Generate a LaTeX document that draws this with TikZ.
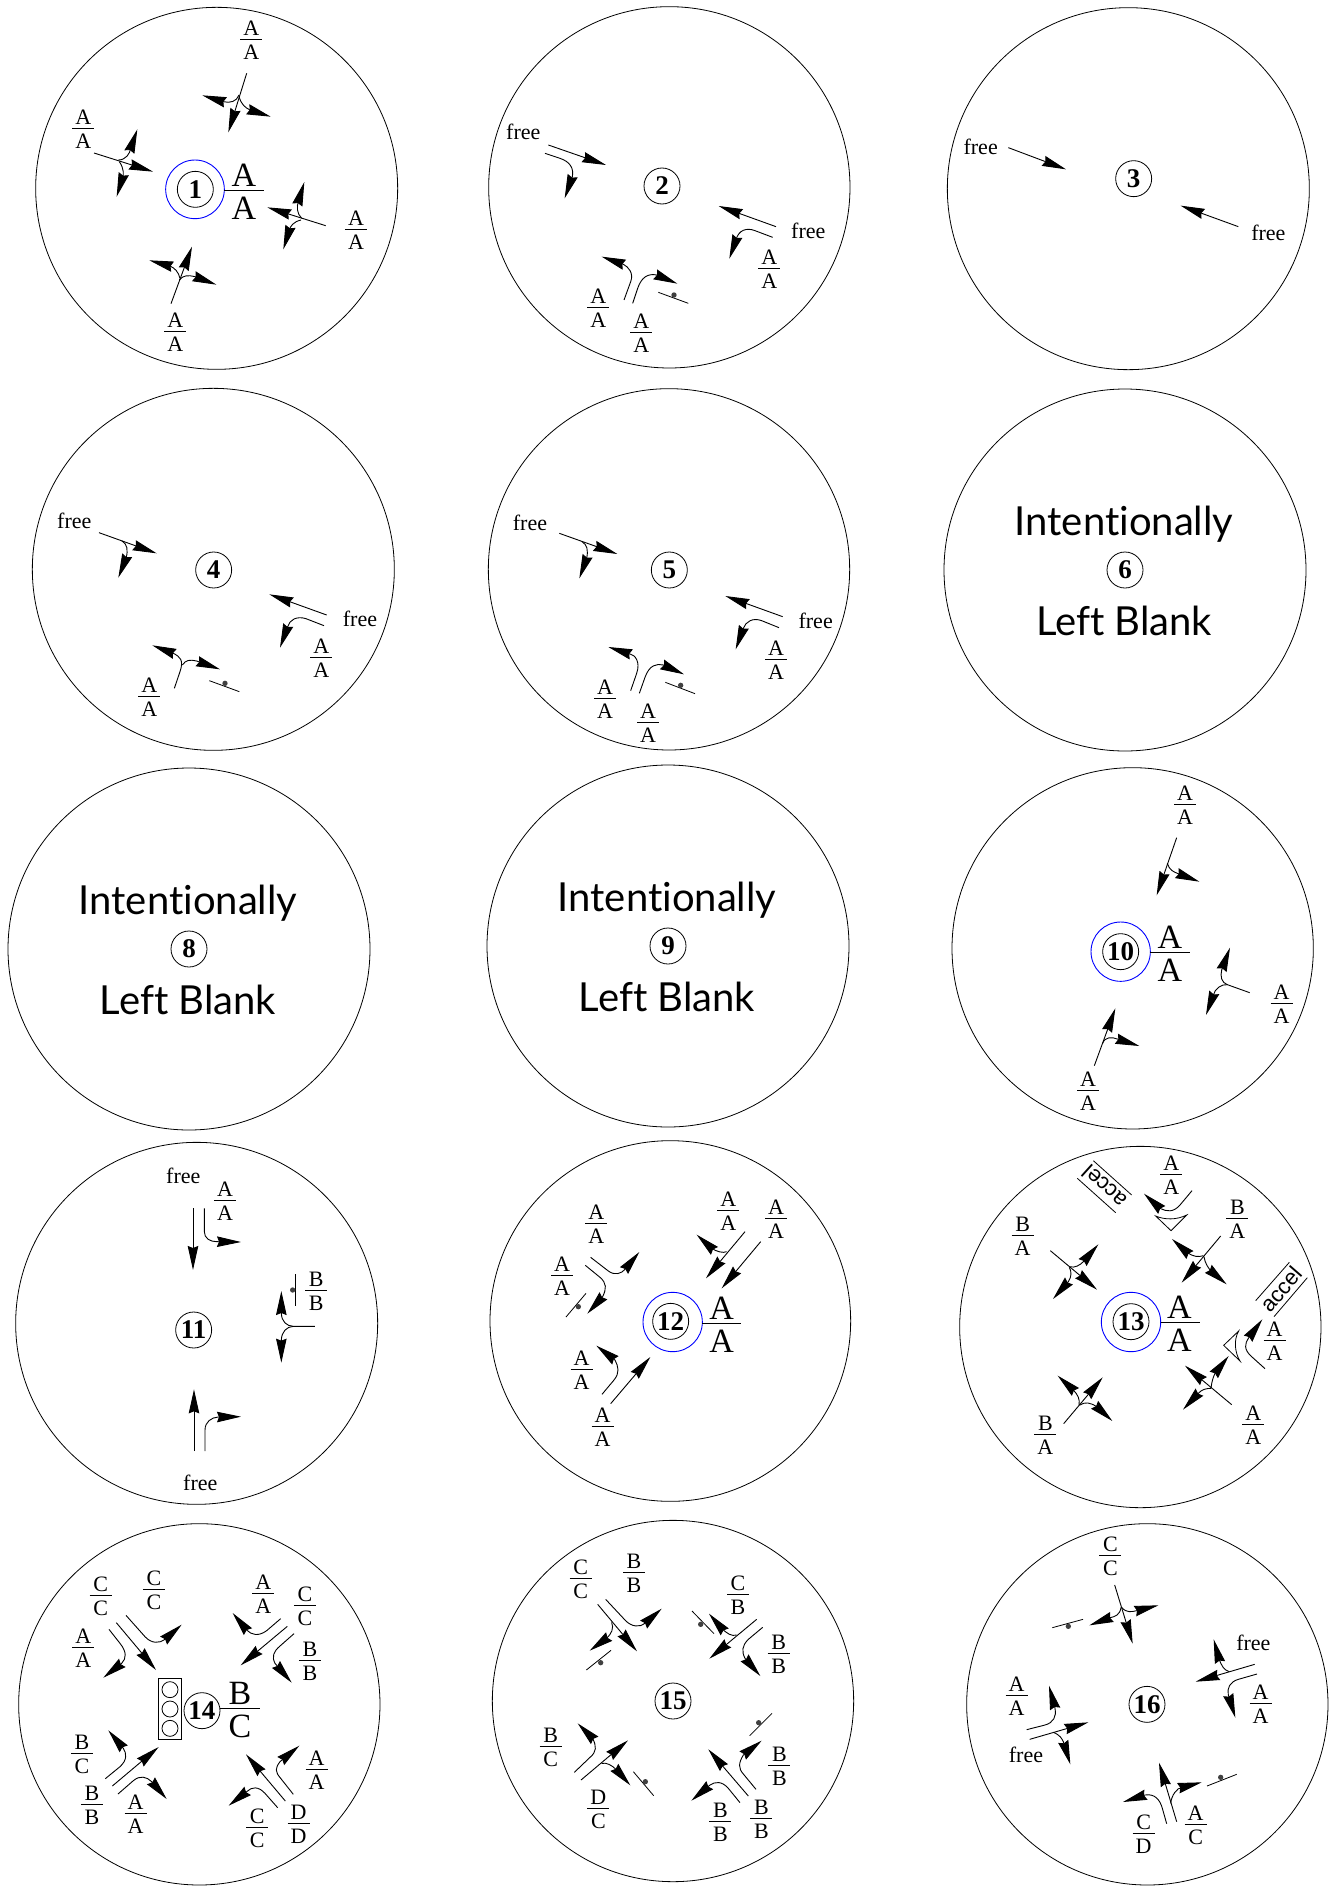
\documentclass[tikz,border=0pt]{standalone}
\usepackage{fontspec}
\setmainfont{Liberation Serif}
\newfontfamily\latof[Ligatures=NoCommon]{Lato}
\newfontfamily\helf{Liberation Sans}
\usetikzlibrary{arrows.meta}
\newcount\nc
\def\nx{\global\advance\nc by 1\relax}
\tikzset{
  zm/.style={x=0.33333pt,y=-0.33333pt},
  ln/.style={line width=0.8pt,black},
  road/.style={line width=0.9pt,black,-{Stealth[length=24pt,width=10.5pt,inset=2pt]}},
  txt/.style={anchor=base,inner sep=0pt,font=\fontsize{22}{24}\selectfont},
  bigtxt/.style={anchor=base,inner sep=0pt,font=\fontsize{34}{36}\selectfont},
  numc/.style={draw,circle,line width=0.8pt,inner sep=0pt,minimum size=36pt,font=\bfseries\fontsize{27}{29}\selectfont},
  ringc/.style={line width=0.9pt,blue},
  blanktxt/.style={anchor=base,inner sep=0pt,font=\latof\fontsize{40}{44}\selectfont}
}
\newcommand\fr[4]{%
  \nx\node[txt,yshift=4pt] (n\the\nc) at (#1,#2) {#3};
  \draw[ln] ([xshift=-11pt]#1,#2) -- ([xshift=11pt]#1,#2);
  \nx\node[txt,yshift=-20pt] (n\the\nc) at (#1,#2) {#4};}
\newcommand\FR[6]{% x1,y,x2,textx,top,bottom
  \draw[ln] (#1,#2) -- (#3,#2);
  \nx\node[bigtxt,yshift=4pt] (n\the\nc) at (#4,#2) {#5};
  \nx\node[bigtxt,yshift=-29pt] (n\the\nc) at (#4,#2) {#6};}
\newcommand\fre[2]{\nx\node[txt] (n\the\nc) at (#1,#2) {free};}
\newcommand\num[3]{\nx\node[numc] (n\the\nc) at (#1,#2) {#3};}
\newcommand\stopbar[6]{%
  \draw[ln] (#1,#2) -- (#3,#4);
  \fill[black!75] (#5,#6) circle[radius=8];}
\newcommand\blankc[3]{%
  \draw[ln] (#1,#2) circle[radius=181];
  \nx\node[blanktxt,xshift=-1pt,yshift=35pt] (n\the\nc) at (#1,#2) {Intentionally};
  \num{#1}{#2}{#3}
  \nx\node[blanktxt,xshift=-1pt,yshift=-65pt] (n\the\nc) at (#1,#2) {Left Blank};}
\begin{document}
\begin{tikzpicture}[x=1pt,y=-1pt]
\path[use as bounding box,fill=white] (0,0) rectangle (1330,1890);
% 1
\begin{scope}[shift={(20,0)},zm]
\draw[ln] (590,565) circle[radius=543];
\fr{694}{118}{A}{A}\fr{190}{385}{A}{A}\fr{1008}{689}{A}{A}\fr{466}{995}{A}{A}
\num{526}{568}{1}
\draw[ringc] (525,568) circle[radius=88];
\FR{613}{570}{732}{672}{A}{A}
\draw[road] (680,220) -- (625,397);
\draw[road] (657,285) .. controls (650,305) and (630,310) .. (610,305) -- (547,286);
\draw[road] (657,290) .. controls (665,315) and (675,322) .. (690,330) -- (752,350);
\draw[road] (222,459) -- (399,515);
\draw[road] (295,480) .. controls (318,480) and (330,460) .. (332,445) -- (352,388);
\draw[road] (298,485) .. controls (312,505) and (312,525) .. (307,535) -- (290,590);
\draw[road] (917,677) -- (742,622);
\draw[road] (845,655) .. controls (830,640) and (830,620) .. (835,605) -- (853,546);
\draw[road] (843,660) .. controls (820,665) and (810,680) .. (808,690) -- (790,748);
\draw[road] (453,911) -- (516,740);
\draw[road] (480,835) .. controls (475,815) and (465,805) .. (450,798) -- (388,781);
\draw[road] (478,840) .. controls (490,825) and (505,825) .. (525,830) -- (589,854);
\end{scope}
% 2
\begin{scope}[shift={(480,0)},zm]
\draw[ln] (568,562) circle[radius=542];
\fre{130}{418}\fre{985}{715}
\fr{355}{922}{A}{A}\fr{484}{997}{A}{A}\fr{868}{805}{A}{A}
\num{546}{558}{2}
\draw[road] (205,435) -- (378,495);
\draw[road] (195,460) -- (240,475) .. controls (270,485) and (282,505) .. (277,530) -- (254,595);
\draw[road] (888,680) -- (716,618);
\draw[road] (878,712) -- (825,692) .. controls (800,682) and (775,690) .. (768,720) -- (748,776);
\draw[road] (432,900) -- (452,845) .. controls (462,820) and (445,800) .. (430,793) -- (365,770);
\draw[road] (458,910) -- (473,865) .. controls (485,830) and (505,820) .. (530,825) -- (592,851);
\stopbar{535}{877}{625}{910}{582}{885}
\end{scope}
% 3
\begin{scope}[shift={(940,0)},zm]
\draw[ln] (565,566) circle[radius=543];
\fre{122}{462}\fre{985}{720}
\num{581}{536}{3}
\draw[road] (205,443) -- (378,508);
\draw[road] (895,680) -- (722,617);
\end{scope}
% 4
\begin{scope}[shift={(20,380)},zm]
\draw[ln] (580,568) circle[radius=543];
\fre{163}{445}\fre{1020}{740}
\fr{904}{831}{A}{A}\fr{388}{948}{A}{A}
\num{581}{570}{4}
\draw[road] (237,458) -- (410,520);
\draw[road] (305,482) .. controls (322,492) and (325,510) .. (318,535) -- (295,593);
\draw[road] (920,705) -- (748,643);
\draw[road] (912,737) -- (858,716) .. controls (830,707) and (808,720) .. (803,740) -- (780,803);
\draw[road] (463,925) -- (480,875) .. controls (492,840) and (480,830) .. (460,820) -- (397,796);
\draw[road] (487,855) .. controls (497,840) and (510,838) .. (530,843) -- (600,868);
\stopbar{568}{902}{658}{935}{615}{910}
\end{scope}
% 5
\begin{scope}[shift={(480,380)},zm]
\draw[ln] (567,568) circle[radius=542];
\fre{150}{450}\fre{1007}{745}
\fr{375}{954}{A}{A}\fr{504}{1028}{A}{A}\fr{888}{838}{A}{A}
\num{568}{570}{5}
\draw[road] (238,460) -- (412,522);
\draw[road] (305,484) .. controls (322,495) and (325,510) .. (320,535) -- (298,595);
\draw[road] (908,710) -- (736,648);
\draw[road] (897,743) -- (845,722) .. controls (818,712) and (797,725) .. (790,745) -- (767,808);
\draw[road] (452,932) -- (470,880) .. controls (482,845) and (465,825) .. (450,822) -- (385,801);
\draw[road] (478,940) -- (495,892) .. controls (508,855) and (530,850) .. (550,855) -- (612,883);
\stopbar{556}{907}{645}{941}{602}{916}
\end{scope}
% 6 8 9
\blankc{1125}{570}{6}
\blankc{189}{949}{8}
\blankc{668}{946}{9}
% 10
\begin{scope}[shift={(940,760)},zm]
\draw[ln] (578,565) circle[radius=542];
\fr{735}{132}{A}{A}\fr{1025}{730}{A}{A}\fr{444}{992}{A}{A}
\num{542}{575}{10}
\draw[ringc] (542,575) circle[radius=89];
\FR{630}{577}{749}{690}{A}{A}
\draw[road] (710,233) -- (650,406);
\draw[road] (682,310) .. controls (688,330) and (700,335) .. (712,340) -- (778,365);
\draw[road] (929,698) -- (862,674) .. controls (845,668) and (840,650) .. (845,630) -- (870,563);
\draw[road] (862,674) .. controls (845,672) and (825,685) .. (820,705) -- (798,765);
\draw[road] (463,917) -- (526,745);
\draw[road] (488,850) .. controls (495,830) and (515,830) .. (535,838) -- (598,858);
\end{scope}
% 11
\begin{scope}[shift={(10,1140)},zm]
\draw[ln] (560,550) circle[radius=543];
\fre{520}{130}\fre{571}{1050}
\fr{645}{181}{A}{A}\fr{919}{450}{B}{B}
\num{551}{570}{11}
\draw[road] (549,205) -- (549,390);
\draw[road] (583,205) -- (583,275) .. controls (583,295) and (600,305) .. (620,305) -- (693,306);
\draw[road] (552,933) -- (552,748);
\draw[road] (585,933) -- (585,870) .. controls (585,845) and (605,832) .. (625,831) -- (693,830);
\draw[road] (915,559) -- (850,559) .. controls (830,558) and (815,545) .. (814,520) -- (814,453);
\draw[road] (850,559) .. controls (830,560) and (815,575) .. (814,600) -- (814,668);
\stopbar{856}{403}{856}{497}{848}{450}
\end{scope}
% 12
\begin{scope}[shift={(490,1140)},zm]
\draw[ln] (541,543) circle[radius=541];
\fr{319}{251}{A}{A}\fr{216}{405}{A}{A}\fr{275}{688}{A}{A}\fr{338}{859}{A}{A}\fr{715}{210}{A}{A}\fr{858}{234}{A}{A}
\num{542}{544}{12}
\draw[ringc] (548,546) circle[radius=89];
\FR{636}{550}{753}{695}{A}{A}
\draw[road] (812,305) -- (695,445);
\draw[road] (765,275) -- (648,415);
\draw[road] (710,335) .. controls (700,340) and (680,335) .. (665,325) -- (620,284);
\draw[road] (302,352) -- (355,393) .. controls (375,408) and (395,400) .. (405,388) -- (448,336);
\draw[road] (286,376) -- (330,412) .. controls (350,430) and (350,445) .. (338,470) -- (292,521);
\stopbar{288}{460}{228}{531}{265}{500}
\draw[road] (336,763) -- (372,720) .. controls (390,698) and (385,680) .. (375,660) -- (319,617);
\draw[road] (362,791) -- (481,651);
\end{scope}
% 13
\begin{scope}[shift={(950,1140)},zm]
\draw[ln] (571,561) circle[radius=542];
\fr{664}{102}{A}{A}\fr{862}{235}{B}{A}\fr{218}{286}{B}{A}\fr{286}{884}{B}{A}\fr{974}{600}{A}{A}\fr{910}{853}{A}{A}
\num{543}{545}{13}
\draw[ringc] (543,546) circle[radius=89];
\FR{632}{548}{750}{688}{A}{A}
\draw[road] (726,152) -- (690,195) .. controls (670,218) and (650,215) .. (630,205) -- (582,161);
\draw[ln] (617,228) .. controls (645,240) and (680,240) .. (710,225) -- (663,272) -- cycle;
\draw[road] (812,288) -- (695,428);
\draw[road] (760,347) .. controls (745,352) and (730,350) .. (712,338) -- (666,297);
\draw[road] (762,350) .. controls (765,370) and (775,385) .. (785,395) -- (830,433);
\draw[road] (301,332) -- (441,449);
\draw[road] (358,380) .. controls (375,385) and (390,375) .. (400,365) -- (445,313);
\draw[road] (358,382) .. controls (365,395) and (365,410) .. (355,425) -- (309,477);
\draw[road] (341,851) -- (458,712);
\draw[road] (387,795) .. controls (390,780) and (385,765) .. (370,750) -- (323,707);
\draw[road] (390,795) .. controls (405,785) and (420,787) .. (440,800) -- (487,843);
\draw[road] (845,794) -- (705,677);
\draw[road] (783,745) .. controls (785,725) and (790,710) .. (795,700) -- (836,648);
\draw[road] (783,745) .. controls (770,745) and (755,748) .. (745,760) -- (699,809);
\draw[ln] (866,573) .. controls (850,600) and (855,640) .. (870,663) -- (821,616) -- cycle;
\draw[road] (945,686) -- (905,650) .. controls (880,628) and (885,610) .. (895,595) -- (937,538);
\draw[ln] (917,482) -- (1018,367);
\draw[ln] (972,530) -- (1072,413);
\nx\node[inner sep=0pt,rotate=49,font=\helf\fontsize{22}{24}\selectfont] (n\the\nc) at (994,447) {accel};
\draw[ln] (382,115) -- (497,218);
\draw[ln] (430,62) -- (545,165);
\nx\node[inner sep=0pt,rotate=138,font=\helf\fontsize{22}{24}\selectfont] (n\the\nc) at (463,140) {accel};
\end{scope}
% 14
\begin{scope}[shift={(10,1520)},zm]
\draw[ln] (568,553) circle[radius=542];
\fr{272}{225}{C}{C}\fr{432}{207}{C}{C}\fr{220}{381}{A}{A}\fr{760}{220}{A}{A}\fr{885}{255}{C}{C}\fr{900}{420}{B}{B}
\fr{216}{699}{B}{C}\fr{246}{853}{B}{B}\fr{377}{880}{A}{A}\fr{742}{922}{C}{C}\fr{866}{910}{D}{D}\fr{920}{749}{A}{A}
\num{576}{572}{14}
\FR{630}{566}{749}{690}{B}{C}
\draw[ln] (445,475) rectangle (515,659);
\draw[ln] (480,509) circle[radius=24];
\draw[ln] (480,567) circle[radius=24];
\draw[ln] (480,625) circle[radius=24];
\draw[road] (319,308) -- (438,450);
\draw[road] (297,328) -- (330,370) .. controls (350,395) and (350,415) .. (335,430) -- (280,473);
\draw[road] (348,286) -- (405,350) .. controls (425,372) and (450,370) .. (465,358) -- (515,314);
\draw[road] (832,319) -- (692,436);
\draw[road] (812,296) -- (770,332) .. controls (745,350) and (725,345) .. (710,330) -- (668,279);
\draw[road] (852,341) -- (810,378) .. controls (790,395) and (785,410) .. (795,430) -- (845,488);
\draw[road] (307,798) -- (446,681);
\draw[road] (286,776) -- (330,740) .. controls (352,720) and (350,700) .. (340,685) -- (295,631);
\draw[road] (324,822) -- (370,782) .. controls (390,765) and (410,770) .. (425,785) -- (470,837);
\draw[road] (826,843) -- (708,703);
\draw[road] (850,823) -- (812,775) .. controls (795,755) and (795,745) .. (810,725) -- (868,677);
\draw[road] (803,863) -- (765,820) .. controls (745,798) and (725,800) .. (710,815) -- (656,857);
\end{scope}
% 15
\begin{scope}[shift={(490,1520)},zm]
\draw[ln] (549,543) circle[radius=542];
\fr{272}{175}{C}{C}\fr{432}{158}{B}{B}\fr{744}{222}{C}{B}\fr{866}{401}{B}{B}\fr{182}{680}{B}{C}\fr{325}{866}{D}{C}\fr{691}{905}{B}{B}\fr{868}{735}{B}{B}\fr{814}{895}{B}{B}
\num{549}{543}{15}
\draw[road] (323,253) -- (441,394);
\draw[road] (365,307) .. controls (372,325) and (365,340) .. (350,355) -- (299,392);
\draw[road] (347,238) -- (405,300) .. controls (425,322) and (450,322) .. (465,310) -- (515,266);
\stopbar{289}{450}{363}{391}{332}{428}
\draw[road] (800,298) -- (658,416);
\draw[road] (740,345) .. controls (725,350) and (710,340) .. (695,325) -- (657,281);
\draw[road] (818,322) -- (775,358) .. controls (755,378) and (755,395) .. (765,415) -- (811,468);
\stopbar{606}{273}{672}{341}{632}{313}
\draw[road] (273,780) -- (414,661);
\draw[road] (253,757) -- (300,712) .. controls (320,695) and (320,680) .. (308,655) -- (263,610);
\draw[road] (335,730) .. controls (350,727) and (365,735) .. (380,750) -- (421,796);
\stopbar{430}{755}{491}{827}{466}{785}
\draw[road] (775,828) -- (655,688);
\draw[road] (798,808) -- (760,762) .. controls (745,745) and (745,730) .. (760,705) -- (815,662);
\draw[road] (750,848) -- (715,805) .. controls (695,782) and (675,785) .. (660,795) -- (604,842);
\stopbar{779}{647}{846}{580}{806}{608}
\end{scope}
% 16
\begin{scope}[shift={(960,1520)},zm]
\draw[ln] (562,553) circle[radius=542];
\fr{451}{107}{C}{C}\fr{170}{527}{A}{A}\fr{902}{549}{A}{A}\fr{551}{940}{C}{D}\fr{707}{914}{A}{C}
\fre{198}{727}\fre{880}{392}
\num{561}{553}{16}
\draw[road] (464,195) -- (518,371);
\draw[road] (483,262) .. controls (480,285) and (465,290) .. (450,293) -- (388,316);
\draw[road] (485,262) .. controls (500,280) and (515,275) .. (530,272) -- (595,256);
\stopbar{277}{323}{369}{298}{325}{319}
\draw[road] (884,433) -- (707,485);
\draw[road] (808,455) .. controls (790,450) and (785,435) .. (778,420) -- (761,358);
\draw[road] (891,462) -- (835,478) .. controls (810,485) and (800,505) .. (805,525) -- (826,593);
\draw[road] (209,658) -- (385,607);
\draw[road] (200,629) -- (255,615) .. controls (280,608) and (290,590) .. (285,565) -- (267,497);
\draw[road] (280,637) .. controls (300,645) and (305,655) .. (310,665) -- (331,733);
\draw[road] (650,905) -- (597,728);
\draw[road] (620,911) -- (607,865) .. controls (600,840) and (585,820) .. (555,825) -- (489,846);
\draw[road] (632,850) .. controls (635,825) and (650,805) .. (665,802) -- (725,787);
\stopbar{741}{798}{830}{763}{782}{772}
\end{scope}
\end{tikzpicture}
\end{document}
